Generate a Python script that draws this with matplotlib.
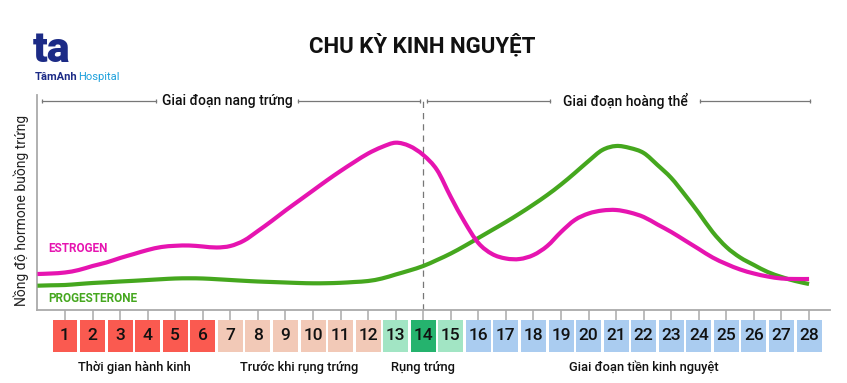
import matplotlib
matplotlib.use("Agg")
import matplotlib.pyplot as plt
import numpy as np
from matplotlib.patches import Rectangle, PathPatch
from matplotlib.path import Path

plt.rcParams['font.family'] = ['Roboto', 'DejaVu Sans']

# ---- data ----
days = list(range(1, 29))
curve_days = [i * 0.5 for i in range(57)]  # 0, 0.5, ... 28
estrogen = [36, 36.5, 37.5, 40, 44, 47.5, 52, 56, 60, 63, 64.2, 64.5, 63.5, 62.5,
            64, 69.5, 79, 89, 99.5, 109.5, 119.5, 129.5, 139, 148, 156.5, 163, 167.3,
            164, 155, 140, 113, 88, 67, 56, 51.5, 51, 55, 64, 78, 90, 96.5, 99.5,
            100, 97.5, 93, 85.5, 78, 69.5, 61, 52.5, 46, 40.5, 36.5, 33.5, 31.5, 31, 31]
progesterone = [24.3, 24.7, 25, 26, 27, 27.7, 28.5, 29.2, 30, 30.8, 31.5, 31.7, 31.5, 30.8,
                30, 29.2, 28.5, 28, 27.5, 27, 26.7, 26.8, 27.2, 28, 29, 31.5, 35.5,
                39.5, 44, 50, 56.5, 64, 72, 80, 88, 96.5, 105.5, 115, 125.5, 137, 149,
                160, 164, 162, 157, 145, 132, 115, 97, 78, 63, 52.5, 45, 38, 33, 29, 26]
day_colors = (['#FA5A50'] * 6 + ['#F2C9B7'] * 6 + ['#A2E5C4', '#25B36E', '#A2E5C4']
              + ['#AACCF0'] * 13)
stage_labels = ['Thời gian hành kinh', 'Trước khi rụng trứng', 'Rụng trứng',
                'Giai đoạn tiền kinh nguyệt']
stage_centers = [3.5, 9.5, 14, 22]
phase_labels = ['Giai đoạn nang trứng', 'Giai đoạn hoàng thể']

EST_C = '#E614B0'
PRO_C = '#45A71E'
GRAY = '#aaaaaa'
TXT = '#111111'


def smooth_path(xs, ys):
    """Catmull-Rom through the given points, drawn as cubic Bezier segments."""
    p = np.column_stack([xs, ys]).astype(float)
    n = len(p)
    verts = [p[0]]
    codes = [Path.MOVETO]
    for i in range(n - 1):
        p0 = p[i - 1] if i > 0 else p[i]
        p1, p2 = p[i], p[i + 1]
        p3 = p[i + 2] if i + 2 < n else p[i + 1]
        c1 = p1 + (p2 - p0) / 6
        c2 = p2 - (p3 - p1) / 6
        verts += [c1, c2, p2]
        codes += [Path.CURVE4] * 3
    return Path(verts, codes)


fig = plt.figure(figsize=(8.47, 3.83), dpi=100)
ax = fig.add_axes([37.44 / 847, 73 / 383, (830 - 37.44) / 847, 215 / 383])
ax.set_xlim(0, 28.76)
ax.set_ylim(0, 215)

for s in ['top', 'right']:
    ax.spines[s].set_visible(False)
for s in ['left', 'bottom']:
    ax.spines[s].set_color(GRAY)
    ax.spines[s].set_linewidth(1.3)
ax.set_yticks([])
ax.set_xticks(days)
ax.set_xticklabels([])
ax.tick_params(axis='x', direction='out', length=7.2, width=1.1, color=GRAY)

ax.add_patch(PathPatch(smooth_path(curve_days, progesterone), facecolor='none',
                       edgecolor=PRO_C, lw=3, capstyle='butt', zorder=3))
ax.add_patch(PathPatch(smooth_path(curve_days, estrogen), facecolor='none',
                       edgecolor=EST_C, lw=3, capstyle='butt', zorder=4))

# ovulation dashed line
ax.plot([14, 14], [0, 210], color='#777777', lw=0.9, ls=(0, (5, 4)), zorder=2)

# phase lines
lc = '#777777'
for seg in [(0.17, 4.3), (9.45, 13.88), (14.14, 18.6), (24.04, 28.03)]:
    ax.plot(seg, [209, 209], color=lc, lw=0.9, marker='|', ms=3, mew=0.9, clip_on=False)
ax.text(6.88, 209, phase_labels[0], ha='center', va='center', fontsize=10,
        fontweight='medium', color=TXT)
ax.text(21.35, 209, phase_labels[1], ha='center', va='center', fontsize=10,
        fontweight='medium', color=TXT)

# curve labels
ax.text(0.38, 62, 'ESTROGEN', color=EST_C, fontsize=8.5, fontweight='bold', va='center')
ax.text(0.38, 12, 'PROGESTERONE', color=PRO_C, fontsize=8.5, fontweight='bold', va='center')

# day boxes
bw = 0.907
for d, c in zip(days, day_colors):
    ax.add_patch(Rectangle((d - bw / 2, -42), bw, 32, facecolor=c, edgecolor='none',
                           clip_on=False))
    ax.text(d, -26, str(d), ha='center', va='center', fontsize=12.5, color=TXT,
            fontweight='medium', clip_on=False)

for lab, cx in zip(stage_labels, stage_centers):
    ax.text(cx, -57, lab, ha='center', va='center', fontsize=9.3, color=TXT,
            fontweight='medium', clip_on=False)

# y label
fig.text(21 / 847, 1 - 210 / 383, 'Nồng độ hormone buồng trứng', rotation=90,
         ha='center', va='center', fontsize=10, color='#222222')

# title
fig.text(422 / 847, 1 - 46 / 383, 'CHU KỲ KINH NGUYỆT', ha='center', va='center',
         fontsize=16, fontweight='bold', color=TXT)

# logo
fig.text(33 / 847, 1 - 51 / 383, 'ta', ha='left', va='center', fontsize=31,
         fontweight='black', color='#1C2B86')
fig.text(35 / 847, 1 - 77 / 383, 'TâmAnh', ha='left', va='center', fontsize=8,
         fontweight='bold', color='#1C2B86')
fig.text(78 / 847, 1 - 77 / 383, 'Hospital', ha='left', va='center', fontsize=8,
         color='#1CA0DC')

fig.savefig('out.png', dpi=100, facecolor='white')
